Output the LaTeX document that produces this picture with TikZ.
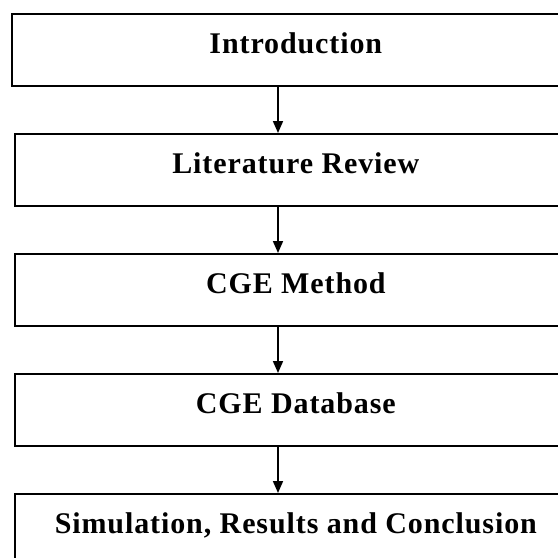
\documentclass[tikz,border=0pt]{standalone}
\usepackage{fontspec}
\setmainfont{Liberation Serif}
\usetikzlibrary{arrows.meta}
\begin{document}
\begin{tikzpicture}[x=1pt,y=-1pt,
  stage/.style={draw=black, line width=1.7pt, minimum height=72pt,
    font=\fontsize{30}{34}\selectfont\bfseries\addfontfeature{LetterSpace=3},
    text height=21pt, text depth=13pt, inner sep=0pt},
  flow/.style={line width=1.7pt, -{Triangle[length=12pt,width=10pt]}}]
  \useasboundingbox (0,0) rectangle (558,558);
  \clip (0,0) rectangle (558,558);
  % stages of the study, stacked top to bottom
  \node[stage, minimum width=568pt, anchor=north west] (b1) at (11,13) {Introduction};
  \node[stage, minimum width=562pt, anchor=north west] (b2) at (14,133) {Literature Review};
  \node[stage, minimum width=562pt, anchor=north west] (b3) at (14,253) {CGE Method};
  \node[stage, minimum width=562pt, anchor=north west] (b4) at (14,373) {CGE Database};
  \node[stage, minimum width=562pt, anchor=north west] (b5) at (14,493) {Simulation, Results and Conclusion};
  % vertical line carrying the arrows
  \coordinate (ax) at (278,0);
  \draw[flow] (b1.south -| ax) -- (b2.north -| ax);
  \draw[flow] (b2.south -| ax) -- (b3.north -| ax);
  \draw[flow] (b3.south -| ax) -- (b4.north -| ax);
  \draw[flow] (b4.south -| ax) -- (b5.north -| ax);
\end{tikzpicture}
\end{document}
